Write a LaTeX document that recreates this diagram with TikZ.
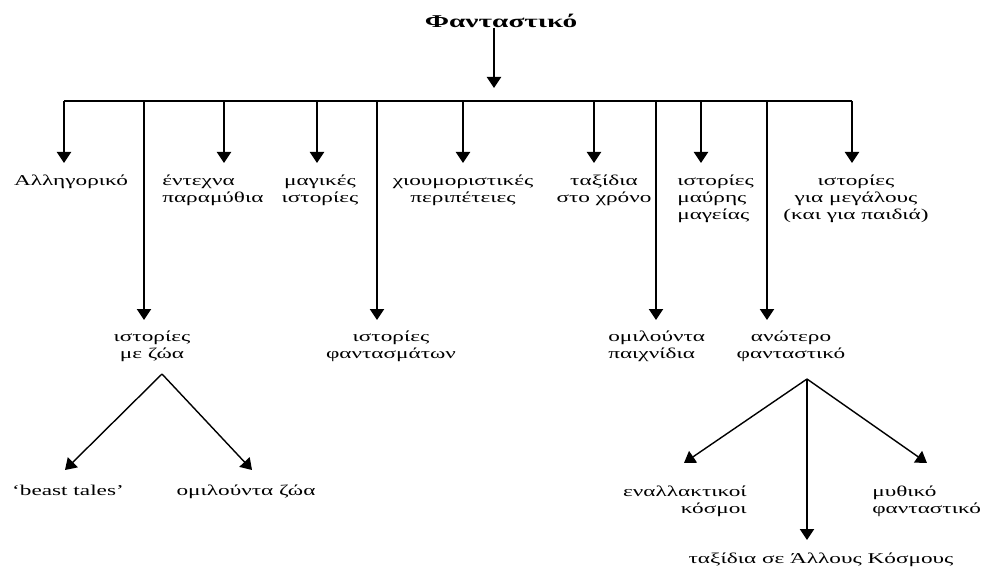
\documentclass[tikz,border=0pt]{standalone}
\usepackage{fontspec}
\setmainfont{Liberation Serif}
\usetikzlibrary{arrows.meta}

\begin{document}
\begin{tikzpicture}[
    x=1pt, y=-1pt,
    lbl/.style={inner sep=0pt, xscale=1.55, font=\fontsize{15}{17}\selectfont, anchor=north},
    every edge/.style={draw, line width=2pt, -{Triangle[width=14pt,length=11pt]}},
    slant/.style={line width=1.4pt}
    ]
    \useasboundingbox (0,0) rectangle (986,567);

    \node[inner sep=0pt, xscale=1.63, font=\fontsize{18}{20}\selectfont\bfseries] (fan) at (501,21) {Φανταστικό};

    \coordinate (bar0) at (494,88);
    \coordinate (barl) at (64,101);
    \coordinate (barr) at (852,101);
    \path (fan.south -| bar0) edge (bar0);
    \draw[line width=1.5pt] (barl) -- (barr);

    % short and long drops from the bar
    \foreach \n/\x/\y in {alle/64/163, ente/224/163, magi/317/163, xiou/463/163, taxi/594/163,
                          mavr/701/163, mega/852/163, zoa/144/320, fant/377/320, paix/656/320, anot/767/320} {
        \coordinate (top-\n) at (\x,101);
        \coordinate (tip-\n) at (\x,\y);
        \path (top-\n) edge (tip-\n);
    }

    \node[lbl] (alle) at (71,175) {Αλληγορικό};
    \node[lbl, anchor=north west, align=left] (ente) at (162,175) {έντεχνα\\παραμύθια};
    \node[lbl, align=center] (magi) at (320,175) {μαγικές\\ ιστορίες};
    \node[lbl, align=center] (xiou) at (463,175) {χιουμοριστικές\\περιπέτειες};
    \node[lbl, align=center] (taxi) at (604,175) {ταξίδια\\στο χρόνο};
    \node[lbl, anchor=north west, align=left] (mavr) at (677,175) {ιστορίες\\μαύρης\\μαγείας};
    \node[lbl, align=center] (mega) at (856,175) {ιστορίες\\για μεγάλους\\(και για παιδιά)};

    \node[lbl, align=center] (zoa) at (152,331) {ιστορίες\\με ζώα};
    \node[lbl, align=center] (fant) at (391,331) {ιστορίες\\φαντασμάτων};
    \node[lbl, anchor=north west, align=left] (paix) at (608,331) {ομιλούντα\\ παιχνίδια};
    \node[lbl, align=center] (anot) at (791,331) {ανώτερο\\φανταστικό};

    % animals
    \coordinate (zoa-top) at (162,374);
    \coordinate (zoa-l) at (65,470);
    \coordinate (zoa-r) at (252,470);
    \path (zoa-top) edge[slant] (zoa-l);
    \path (zoa-top) edge[slant] (zoa-r);
    \node[lbl] (beast) at (68,485) {‘beast tales’};
    \node[lbl] (omzoa) at (246,485) {ομιλούντα ζώα};

    % higher fantasy
    \coordinate (anot-top) at (807,379);
    \coordinate (anot-l) at (684,463);
    \coordinate (anot-d) at (807,540);
    \coordinate (anot-r) at (927,463);
    \path (anot-top) edge[slant] (anot-l);
    \path (anot-top) edge (anot-d);
    \path (anot-top) edge[slant] (anot-r);
    \node[lbl, anchor=north east, align=right] (enal) at (747,486) {εναλλακτικοί\\κόσμοι};
    \node[lbl, anchor=north west, align=left] (mith) at (872,486) {μυθικό\\φανταστικό};
    \node[lbl] (allo) at (821,553) {ταξίδια σε Άλλους Κόσμους};

\end{tikzpicture}
\end{document}
